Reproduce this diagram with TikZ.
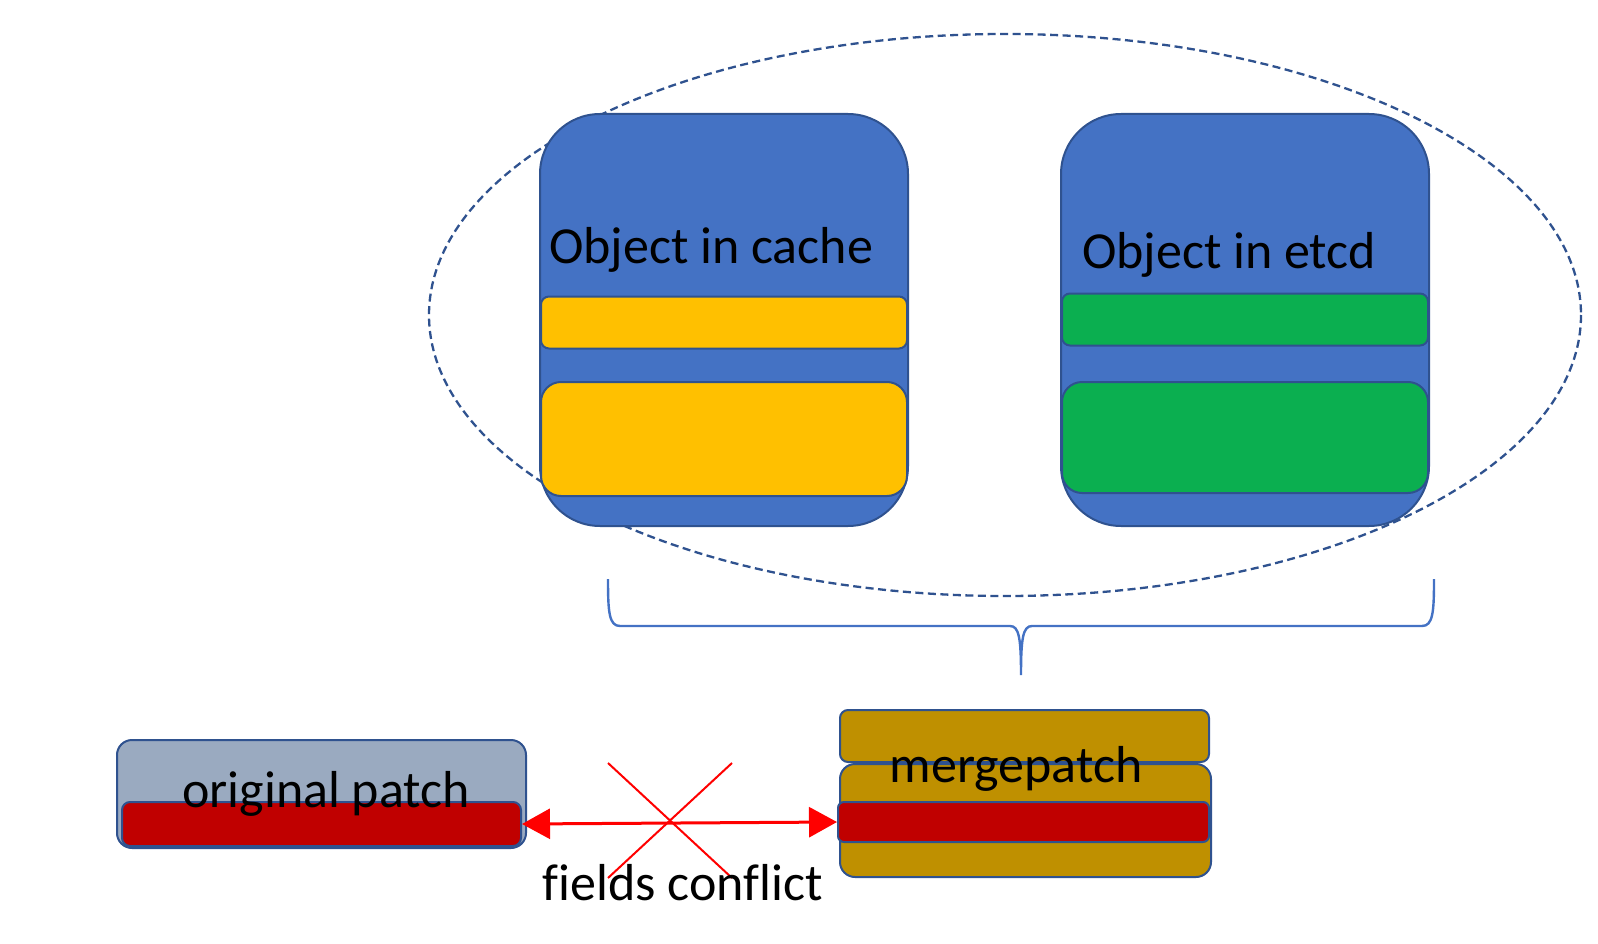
\documentclass[tikz,border=0pt]{standalone}
\usepackage{fontspec}
\setmainfont[Ligatures=NoCommon]{Carlito}
\usepackage{xcolor}
\usepackage{tikz}
\usetikzlibrary{arrows.meta,positioning}

\definecolor{objblue}{HTML}{4472C4}
\definecolor{objedge}{HTML}{2F528F}
\definecolor{cacheyellow}{HTML}{FFC000}
\definecolor{etcdgreen}{HTML}{0BAF50}
\definecolor{patchgray}{HTML}{9AAAC0}
\definecolor{mergegold}{HTML}{BF9000}
\definecolor{fieldred}{HTML}{C00000}
\definecolor{linered}{HTML}{FF0000}

\begin{document}
\begin{tikzpicture}[x=1pt, y=-1pt,
                          objbox/.style={draw=objedge, line width=2pt, fill=objblue, rounded corners=60pt,
                                         minimum width=368pt, minimum height=412pt, inner sep=0pt},
                          fieldbar/.style={draw=objedge, line width=2pt, rounded corners=8pt,
                                           minimum width=366pt, inner sep=0pt},
                          patchbox/.style={draw=objedge, line width=2pt, rounded corners=15pt, inner sep=0pt},
                          label/.style={font=\fontsize{52}{62}\selectfont, inner sep=0pt, anchor=base},
                          cluster/.style={draw=objedge, line width=2.3pt, dash pattern=on 8pt off 4.5pt},
                          bracket/.style={draw=objblue, line width=2.4pt},
                          conflict/.style={draw=linered, line width=3pt,
                                           {Triangle[length=28pt,width=30pt]}-{Triangle[length=28pt,width=30pt]}},
                          cross/.style={draw=linered, line width=2pt},
                         ]

\useasboundingbox (0,0) rectangle (1598,944);

% both copies of the object
\draw[cluster] (1005,315) ellipse [x radius=576, y radius=281];

\node[objbox] (cache) at (724,320) {};
\node[fieldbar, fill=cacheyellow, minimum height=52pt] (cachetop) at (724,322.5) {};
\node[fieldbar, fill=cacheyellow, minimum height=114pt, rounded corners=20pt] (cachebot) at (724,439) {};
\node[label] (cachetxt) at (711,263) {Object in cache};

\node[objbox] (etcd) at (1245,320) {};
\node[fieldbar, fill=etcdgreen, minimum height=52pt] (etcdtop) at (1245,319.5) {};
\node[fieldbar, fill=etcdgreen, minimum height=111pt, rounded corners=20pt] (etcdbot) at (1245,437.5) {};
\node[label] (etcdtxt) at (1229,269) {Object in etcd};

\draw[bracket] (608,579) .. controls (608,612) and (609,626) .. (620,626) -- (1010,626)
               .. controls (1019,626) and (1021,638) .. (1021,675)
               .. controls (1021,638) and (1023,626) .. (1032,626) -- (1422,626)
               .. controls (1433,626) and (1434,612) .. (1434,579);

% the two patches
\node[patchbox, fill=patchgray, minimum width=409pt, minimum height=108pt] (orig) at (321.5,794) {};
\node[patchbox, fill=fieldred, minimum width=399pt, minimum height=44pt, rounded corners=8pt] (origbar) at (321.5,824) {};
\node[label] (origtxt) at (326,807) {original patch};

\node[patchbox, fill=mergegold, minimum width=369pt, minimum height=52pt, rounded corners=8pt] (mergetop) at (1024.5,736) {};
\node[patchbox, fill=mergegold, minimum width=371pt, minimum height=113pt] (mergebot) at (1025.5,820.5) {};
\node[patchbox, fill=fieldred, minimum width=371pt, minimum height=40pt, rounded corners=6pt] (mergebar) at (1023.5,822) {};
\node[label] (mergetxt) at (1016,782) {mergepatch};

\draw[conflict] (origbar.east) -- (mergebar.west);
\draw[cross] (608,763) -- (732,878);
\draw[cross] (732,763) -- (608,878);
\node[label] (conflicttxt) at (683,900) {fields conflict};

\end{tikzpicture}
\end{document}
